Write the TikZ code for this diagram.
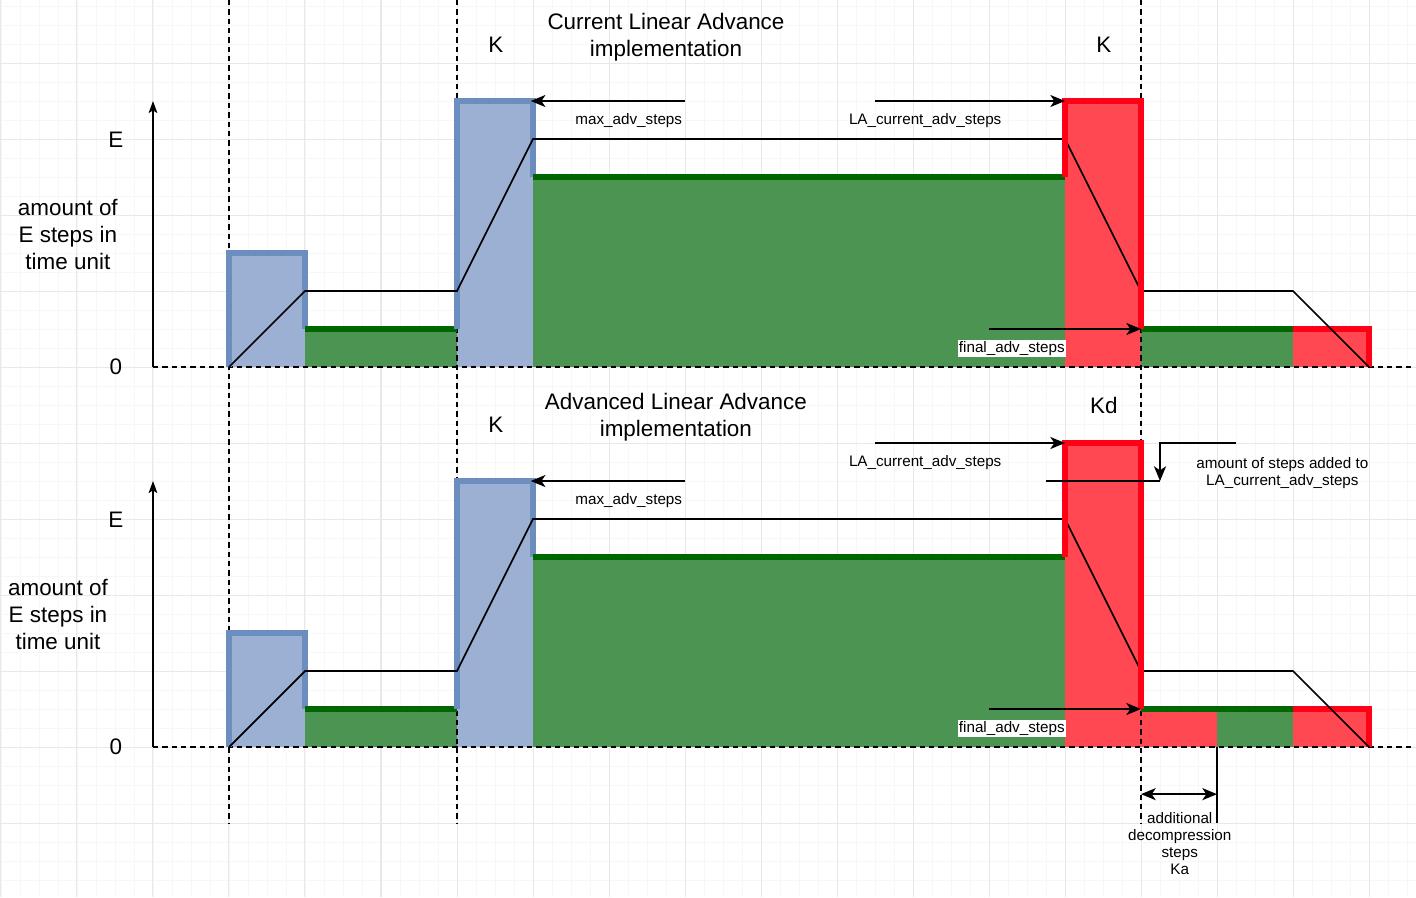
\documentclass[tikz,border=0pt]{standalone}
\usepackage{fontspec}
\setmainfont{Liberation Sans}
\usetikzlibrary{arrows.meta}

\definecolor{gridmajor}{RGB}{232,232,232}
\definecolor{gridminor}{RGB}{247,247,247}
\definecolor{blueline}{RGB}{108,142,191}
\definecolor{bluefill}{RGB}{155,176,210}
\definecolor{greenline}{RGB}{0,102,0}
\definecolor{greenfill}{RGB}{76,148,82}
\definecolor{redline}{RGB}{255,0,22}
\definecolor{redfill}{RGB}{255,72,82}

\tikzset{
	bigtext/.style={font=\fontsize{16.8}{20.2}\selectfont, align=center},
	smalltext/.style={font=\fontsize{11.4}{12.7}\selectfont, align=center, inner sep=1pt},
	guide/.style={line width=1.3pt, dash pattern=on 4pt off 3pt},
	profile/.style={line width=1.3pt, line join=miter},
	border/.style={line width=4.5pt, line join=miter},
	pointer/.style={line width=1.4pt, -{Stealth[length=11pt,width=9pt,inset=3pt]}},
	twopointer/.style={line width=1.4pt, {Stealth[length=11pt,width=9pt,inset=3pt]}-{Stealth[length=11pt,width=9pt,inset=3pt]}},
	axisarrow/.style={line width=1.3pt, -{Stealth[length=9pt,width=6.5pt,inset=2pt]}}
}

\begin{document}
\begin{tikzpicture}[x=2cm,y=2cm]
		
		\useasboundingbox (-3.013,-6.974) rectangle (15.618,4.829);
		
		% Grid
		\draw [gridminor, line width=0.5pt, step=0.25] (-3.013,-6.974) grid (15.618,4.829);
		\draw [gridmajor, line width=0.75pt, step=1] (-3.013,-6.974) grid (15.618,4.829);
		
		% Common fills of both panels
		\foreach \d in {0,-5} {
			\fill [bluefill] (0,\d) rectangle (1,\d+1.5);
			\fill [greenfill] (1,\d) rectangle (3,\d+0.5);
			\fill [bluefill] (3,\d) rectangle (4,\d+3.5);
			\fill [greenfill] (4,\d) rectangle (11,\d+2.5);
			\fill [redfill] (14,\d) rectangle (15,\d+0.5);
		}
		
		% Fills of the current implementation
		\fill [redfill] (11,0) rectangle (12,3.5);
		\fill [greenfill] (12,0) rectangle (14,0.5);
		
		% Fills of the advanced implementation
		\fill [redfill] (11,-5) rectangle (12,-1);
		\fill [redfill] (12,-5) rectangle (13,-4.5);
		\fill [greenfill] (13,-5) rectangle (14,-4.5);
		
		% Dashed guides
		\coordinate (guideAtop) at (0,4.829);
		\coordinate (guideAbot) at (0,-6);
		\coordinate (guideBtop) at (3,4.829);
		\coordinate (guideBbot) at (3,-6);
		\coordinate (guideCtop) at (12,4.829);
		\coordinate (guideCbot) at (12,-6);
		\draw [guide] (guideAtop) -- (guideAbot);
		\draw [guide] (guideBtop) -- (guideBbot);
		\draw [guide] (guideCtop) -- (guideCbot);
		
		% Axes, borders and profile of both panels
		\foreach \d in {0,-5} {
			\draw [guide] (-1,\d) -- (15.55,\d);
			\draw [axisarrow] (-1,\d) -- (-1,\d+3.5);
			\draw [border, blueline] (0,\d) -- (0,\d+1.5) -- (1,\d+1.5) -- (1,\d+0.5);
			\draw [border, greenline] (1,\d+0.5) -- (3,\d+0.5);
			\draw [border, blueline] (3,\d+0.5) -- (3,\d+3.5) -- (4,\d+3.5) -- (4,\d+2.5);
			\draw [border, greenline] (4,\d+2.5) -- (11,\d+2.5);
			\draw [border, greenline] (12,\d+0.5) -- (14,\d+0.5);
			\draw [border, redline] (14,\d+0.5) -- (15,\d+0.5) -- (15,\d);
			\draw [profile] (0,\d) -- (1,\d+1) -- (3,\d+1) -- (4,\d+3) -- (11,\d+3)
				-- (12,\d+1) -- (14,\d+1) -- (15,\d);
		}
		
		% Red borders of the K and Kd blocks
		\draw [border, redline] (11,2.5) -- (11,3.5) -- (12,3.5) -- (12,0.5);
		\draw [border, redline] (11,-2.5) -- (11,-1) -- (12,-1) -- (12,-4.5);
		
		% Axis labels
		\node (eCur) at (-1.49,2.99) [bigtext] {E};
		\node (zeroCur) at (-1.49,0) [bigtext] {0};
		\node (amountCur) at (-2.12,1.74) [bigtext] {amount of\\E steps in\\time unit};
		\node (eAdv) at (-1.49,-2.01) [bigtext] {E};
		\node (zeroAdv) at (-1.49,-5) [bigtext] {0};
		\node (amountAdv) at (-2.25,-3.26) [bigtext] {amount of\\E steps in\\time unit};
		
		% Titles and K labels
		\node (titleCur) at (5.75,4.345) [bigtext] {Current Linear Advance\\implementation};
		\node (kCurA) at (3.51,4.24) [bigtext] {K};
		\node (kCurB) at (11.51,4.24) [bigtext] {K};
		\node (titleAdv) at (5.88,-0.655) [bigtext] {Advanced Linear Advance\\implementation};
		\node (kAdv) at (3.51,-0.76) [bigtext] {K};
		\node (kdAdv) at (11.51,-0.51) [bigtext] {Kd};
		
		% Arrows of the current implementation
		\coordinate (maxCurTail) at (6,3.5);
		\coordinate (maxCurHead) at (3.97,3.5);
		\coordinate (laCurTail) at (8.5,3.5);
		\coordinate (laCurHead) at (11,3.5);
		\coordinate (finalCurTail) at (10,0.5);
		\coordinate (finalCurHead) at (12,0.5);
		\draw [pointer] (maxCurTail) -- (maxCurHead);
		\draw [pointer] (laCurTail) -- (laCurHead);
		\draw [pointer] (finalCurTail) -- (finalCurHead);
		\node (maxCur) at (5.26,3.24) [smalltext] {max\_adv\_steps};
		\node (laCur) at (9.16,3.24) [smalltext] {LA\_current\_adv\_steps};
		\node (finalCur) at (10.3,0.24) [smalltext, fill=white] {final\_adv\_steps};
		
		% Arrows of the advanced implementation
		\coordinate (maxAdvTail) at (6,-1.5);
		\coordinate (maxAdvHead) at (3.97,-1.5);
		\coordinate (laAdvTail) at (8.5,-1);
		\coordinate (laAdvHead) at (11,-1);
		\coordinate (finalAdvTail) at (10,-4.5);
		\coordinate (finalAdvHead) at (12,-4.5);
		\draw [pointer] (maxAdvTail) -- (maxAdvHead);
		\draw [pointer] (laAdvTail) -- (laAdvHead);
		\draw [pointer] (finalAdvTail) -- (finalAdvHead);
		\node (maxAdv) at (5.26,-1.76) [smalltext] {max\_adv\_steps};
		\node (laAdv) at (9.16,-1.26) [smalltext] {LA\_current\_adv\_steps};
		\node (finalAdv) at (10.3,-4.76) [smalltext, fill=white] {final\_adv\_steps};
		
		% Steps added to LA_current_adv_steps
		\coordinate (addTail) at (13.25,-1);
		\coordinate (addBend) at (12.25,-1);
		\coordinate (addHead) at (12.25,-1.5);
		\coordinate (addBase) at (10.75,-1.5);
		\draw [pointer] (addTail) -- (addBend) -- (addHead);
		\draw [line width=1.4pt] (addBase) -- (addHead);
		\node (added) at (13.86,-1.39) [smalltext] {amount of steps added to\\LA\_current\_adv\_steps};
		
		% Additional decompression steps
		\coordinate (kaTop) at (13,-5);
		\coordinate (kaBot) at (13,-6);
		\coordinate (kaLeft) at (12,-5.62);
		\coordinate (kaRight) at (13,-5.62);
		\draw [line width=1.4pt] (kaTop) -- (kaBot);
		\draw [twopointer] (kaLeft) -- (kaRight);
		\node (ka) at (12.51,-6.27) [smalltext] {additional\\decompression\\steps\\Ka};
		
	\end{tikzpicture}
\end{document}
